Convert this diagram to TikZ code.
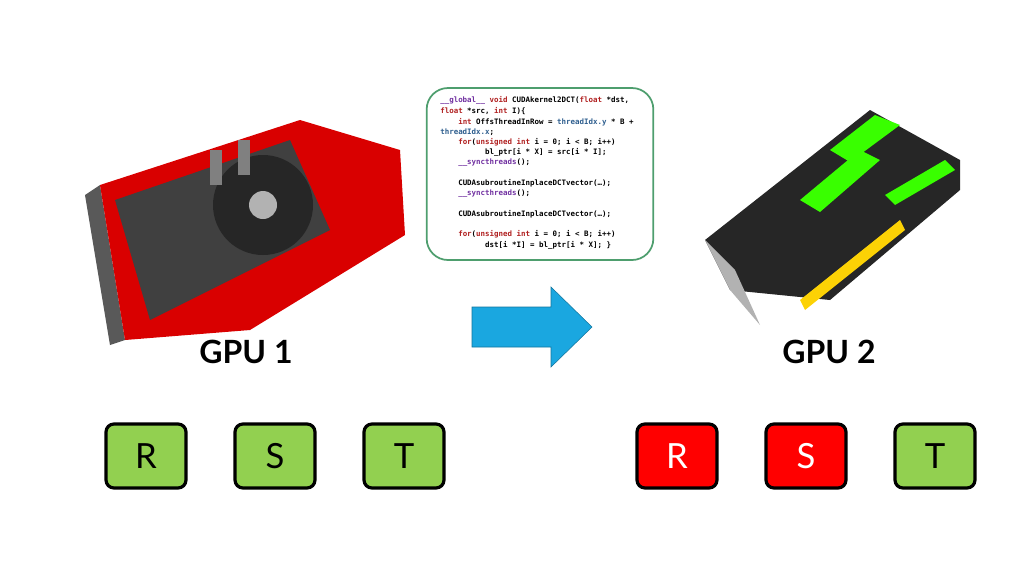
\documentclass[tikz,border=0pt]{standalone}
\usepackage{fontspec}
\setmainfont{Lato}
\newfontfamily\codefont{DejaVu Sans Mono}
\begin{document}
\begin{tikzpicture}[x=0.75pt,y=-0.75pt,
  key/.style={draw=black,line width=2.4pt,rounded corners=6pt,minimum width=60pt,minimum height=48pt,font=\fontsize{26}{26}\selectfont,inner sep=0pt},
  gkey/.style={key,fill=keygreen},
  rkey/.style={key,fill=red},
  lbl/.style={font=\fontsize{24}{24}\selectfont\bfseries},
  cl/.style={anchor=west,inner sep=0pt,font=\codefont\bfseries\fontsize{5.6}{6}\selectfont}]
\definecolor{keygreen}{HTML}{92D050}
\definecolor{codegreen}{HTML}{4E9E6E}
\definecolor{kw}{HTML}{B02020}
\definecolor{pur}{HTML}{7030A0}
\definecolor{blu}{HTML}{2E5E8E}
\definecolor{arrowblue}{HTML}{1AA7E0}
\useasboundingbox (0,0) rectangle (1024,576);
% GPU 1 (stylized)
\fill[gray!70!black] (85,195) -- (100,185) -- (125,340) -- (110,345) -- cycle;
\fill[red!85!black] (100,185) -- (300,120) -- (400,150) -- (405,235) -- (250,330) -- (125,340) -- cycle;
\fill[black!75] (115,200) -- (290,140) -- (330,230) -- (150,320) -- cycle;
\fill[black!85] (263,205) circle (50);
\fill[gray!60] (263,205) circle (14);
\fill[gray] (210,150) rectangle (222,185);
\fill[gray] (238,140) rectangle (250,175);
% GPU 2 (stylized)
\fill[black!85] (705,240) -- (870,110) -- (960,160) -- (960,190) -- (830,300) -- (730,290) -- cycle;
\fill[gray!60] (705,240) -- (730,290) -- (760,325) -- (735,270) -- cycle;
\fill[green!70!lime] (800,200) -- (860,150) -- (880,160) -- (820,212) -- cycle;
\fill[green!70!lime] (830,150) -- (875,115) -- (900,125) -- (850,162) -- cycle;
\fill[green!70!lime] (885,195) -- (945,160) -- (955,170) -- (895,205) -- cycle;
\fill[yellow!70!orange] (800,300) -- (900,220) -- (905,230) -- (805,310) -- cycle;
% code box
\node[draw=codegreen,line width=1.3pt,rounded corners=16pt,minimum width=170pt,minimum height=129pt] (code) at (540,174) {};
\node[cl] (c1) at (440,100) {\textcolor{pur}{\_\_global\_\_} \textcolor{kw}{void} CUDAkernel2DCT(\textcolor{kw}{float} *dst,};
\node[cl] (c2) at (440,111) {\textcolor{kw}{float} *src, \textcolor{kw}{int} I)\{};
\node[cl] (c3) at (440,122) {\ \ \ \ \textcolor{kw}{int} OffsThreadInRow = \textcolor{blu}{threadIdx.y} * B +};
\node[cl] (c4) at (440,132) {\textcolor{blu}{threadIdx.x};};
\node[cl] (c5) at (440,142) {\ \ \ \ \textcolor{kw}{for}(\textcolor{kw}{unsigned int} i = 0; i < B; i++)};
\node[cl] (c6) at (440,152) {\ \ \ \ \ \ \ \ \ \ bl\_ptr[i * X] = src[i * I];};
\node[cl] (c7) at (440,163) {\ \ \ \ \textcolor{pur}{\_\_syncthreads}();};
\node[cl] (c8) at (440,183) {\ \ \ \ CUDAsubroutineInplaceDCTvector(…);};
\node[cl] (c9) at (440,194) {\ \ \ \ \textcolor{pur}{\_\_syncthreads}();};
\node[cl] (c10) at (440,214) {\ \ \ \ CUDAsubroutineInplaceDCTvector(…);};
\node[cl] (c11) at (440,234) {\ \ \ \ \textcolor{kw}{for}(\textcolor{kw}{unsigned int} i = 0; i < B; i++)};
\node[cl] (c12) at (440,245) {\ \ \ \ \ \ \ \ \ \ dst[i *I] = bl\_ptr[i * X]; \}};
% arrow
\fill[arrowblue,draw=arrowblue!70!black,line width=0.4pt] (472,307) -- (551,307) -- (551,287) -- (592,327) -- (551,367) -- (551,347) -- (472,347) -- cycle;
% labels
\node[lbl] (g1) at (246,352) {GPU 1};
\node[lbl] (g2) at (829,352) {GPU 2};
% keys
\node[gkey] (r1) at (146,456) {R};
\node[gkey] (s1) at (275,456) {S};
\node[gkey] (t1) at (404,456) {T};
\node[rkey,text=white] (r2) at (677,456) {R};
\node[rkey,text=white] (s2) at (806,456) {S};
\node[gkey] (t2) at (935,456) {T};
\end{tikzpicture}
\end{document}
